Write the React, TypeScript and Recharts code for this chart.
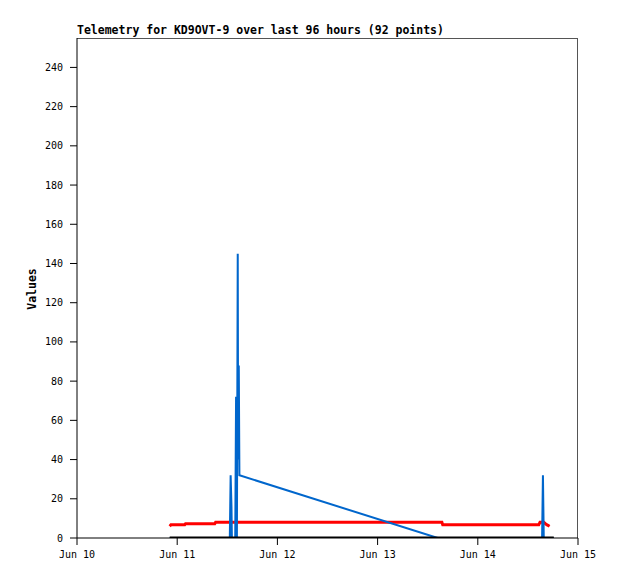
import { Line, LineChart, XAxis, YAxis } from "recharts";

// hours since Jun 10 00:00
const dayTicks = [0, 24, 48, 72, 96, 120];
const dayLabels = ["Jun 10", "Jun 11", "Jun 12", "Jun 13", "Jun 14", "Jun 15"];
const valueTicks = [0, 20, 40, 60, 80, 100, 120, 140, 160, 180, 200, 220, 240];

const redTimes = [22.2, 22.5, 25.8, 26.0, 33.0, 33.2, 87.4, 87.6, 110.6, 110.9, 111.8, 112.2, 112.6, 113.2];
const redValues = [6, 6.7, 6.7, 7.3, 7.3, 8, 8, 6.7, 6.7, 8, 8, 7.3, 6.7, 6];

const blueTimes = [22.2, 36.6, 36.7, 36.8, 37.0, 37.1, 37.9, 38.1, 38.3, 38.5, 38.6, 38.75, 38.9, 86.4, 111.4, 111.5, 111.6, 111.7, 111.8, 114.2];
const blueValues = [0, 0, 16, 32, 16, 0, 0, 72, 0, 145, 40, 88, 32, 0, 0, 16, 32, 16, 0, 0];

const blackTimes = [22.2, 114.2];
const blackValues = [0, 0];

const toRows = (t: number[], v: number[]) => t.map((h, i) => ({ h, v: v[i] }));

const font = "'DejaVu Sans Mono', monospace";

export default function App() {
  const tickStyle = { fontSize: 10, fill: "#000", fontFamily: font };
  return (
    <div style={{ position: "absolute", left: 0, top: 0, width: 618, height: 579, background: "#fff" }}>
      <div
        style={{
          position: "absolute",
          left: 77,
          top: 24,
          fontFamily: font,
          fontWeight: "bold",
          fontSize: 11.5,
          lineHeight: "13px",
          whiteSpace: "nowrap",
        }}
      >
        Telemetry for KD9OVT-9 over last 96 hours (92 points)
      </div>
      <div
        style={{
          position: "absolute",
          left: 32,
          top: 289,
          transform: "translate(-50%, -50%) rotate(-90deg)",
          fontFamily: font,
          fontWeight: "bold",
          fontSize: 11.5,
          whiteSpace: "nowrap",
        }}
      >
        Values
      </div>
      {/* top / right frame of the plot */}
      <div
        style={{
          position: "absolute",
          left: 77,
          top: 38,
          width: 501,
          height: 500,
          borderTop: "1px solid #555",
          borderRight: "1px solid #555",
          boxSizing: "border-box",
        }}
      />
      <LineChart width={618} height={579} margin={{ top: 38, right: 40, bottom: 0, left: 0 }} style={{ position: "absolute", left: 0, top: 0 }}>
        <XAxis
          dataKey="h"
          type="number"
          domain={[0, 120]}
          ticks={dayTicks}
          tickFormatter={(h: number) => dayLabels[dayTicks.indexOf(h)]}
          tick={tickStyle}
          tickSize={7}
          tickMargin={6}
          height={41}
          stroke="#000"
          allowDataOverflow
        />
        <YAxis
          type="number"
          domain={[0, 255]}
          ticks={valueTicks}
          tick={tickStyle}
          tickSize={7}
          tickMargin={7}
          width={77}
          stroke="#000"
          allowDataOverflow
        />
        <Line data={toRows(redTimes, redValues)} dataKey="v" stroke="#ff0000" strokeWidth={3} dot={false} isAnimationActive={false} />
        <Line data={toRows(blueTimes, blueValues)} dataKey="v" stroke="#0066cc" strokeWidth={2} dot={false} isAnimationActive={false} />
        <Line data={toRows(blackTimes, blackValues)} dataKey="v" stroke="#000" strokeWidth={3} dot={false} isAnimationActive={false} />
      </LineChart>
    </div>
  );
}
